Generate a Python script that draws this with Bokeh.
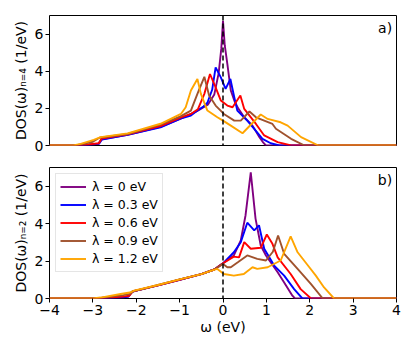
from bokeh.plotting import figure
from bokeh.layouts import column
from bokeh.models import Range1d, Span, Label, FixedTicker, Legend, LegendItem
from bokeh.embed import file_html
from bokeh.resources import INLINE

# ---------------- data ----------------
lambda_labels = ["λ = 0 eV", "λ = 0.3 eV", "λ = 0.6 eV", "λ = 0.9 eV", "λ = 1.2 eV"]
line_colors = ["purple", "blue", "red", "sienna", "orange"]

# panel a) n = 4
w_n4_l00 = [-4.0, -3.45, -3.1, -2.88, -2.8, -2.2, -1.44, -1.0, -0.6, -0.35, -0.2, -0.1, -0.04, 0.0, 0.04, 0.1, 0.18, 0.26, 0.35, 0.49, 0.68, 0.84, 0.93, 0.99, 4.0]
d_n4_l00 = [0, 0, 0.04, 0.09, 0.33, 0.57, 1.0, 1.42, 1.85, 2.2, 2.75, 3.9, 5.2, 6.72, 5.4, 4.4, 2.96, 2.42, 2.0, 1.52, 1.07, 0.45, 0.15, 0, 0]

w_n4_l03 = [-4.0, -3.45, -3.1, -2.86, -2.79, -2.2, -1.44, -0.98, -0.74, -0.59, -0.45, -0.36, -0.25, -0.17, -0.05, 0.06, 0.17, 0.26, 0.33, 0.56, 0.72, 0.91, 1.1, 1.3, 4.0]
d_n4_l03 = [0, 0, 0.04, 0.09, 0.32, 0.58, 0.98, 1.45, 1.61, 1.88, 2.1, 2.3, 3.0, 4.21, 3.67, 3.05, 3.58, 2.6, 1.88, 1.34, 0.9, 0.36, 0.12, 0, 0]

w_n4_l06 = [-4.0, -3.4, -3.1, -2.86, -2.8, -2.2, -1.44, -0.98, -0.74, -0.58, -0.43, -0.3, -0.17, -0.05, 0.1, 0.22, 0.4, 0.49, 0.76, 0.95, 1.26, 1.57, 4.0]
d_n4_l06 = [0, 0, 0.06, 0.12, 0.38, 0.6, 1.05, 1.5, 1.7, 1.95, 2.78, 3.85, 3.13, 2.42, 2.15, 2.06, 2.69, 1.97, 1.16, 0.54, 0.18, 0, 0]

w_n4_l09 = [-4.0, -3.4, -3.0, -2.85, -2.2, -1.44, -0.98, -0.74, -0.59, -0.43, -0.32, -0.17, 0.02, 0.26, 0.41, 0.61, 0.76, 1.14, 1.22, 1.57, 1.88, 4.0]
d_n4_l09 = [0, 0, 0.2, 0.42, 0.62, 1.12, 1.57, 1.88, 2.78, 3.7, 2.69, 2.15, 1.7, 1.34, 1.34, 1.83, 1.52, 1.16, 0.9, 0.36, 0, 0]

w_n4_l12 = [-4.0, -3.45, -3.28, -2.98, -2.82, -2.2, -1.44, -0.97, -0.86, -0.74, -0.59, -0.51, -0.36, -0.13, 0.0, 0.18, 0.45, 0.87, 1.03, 1.33, 1.49, 1.8, 2.2, 4.0]
d_n4_l12 = [0, 0, 0.09, 0.3, 0.45, 0.65, 1.17, 1.7, 2.06, 2.96, 3.58, 2.78, 1.88, 1.52, 1.34, 1.07, 0.66, 1.67, 1.43, 1.25, 1.07, 0.45, 0, 0]

# panel b) n = 2
w_n2_l00 = [-4.0, -3.0, -2.8, -2.3, -2.18, -2.1, -2.0, -1.5, -1.0, -0.5, -0.2, 0.0, 0.25, 0.41, 0.52, 0.64, 0.75, 0.87, 0.99, 1.26, 1.41, 1.6, 1.66, 4.0]
d_n2_l00 = [0, 0, 0.02, 0.06, 0.1, 0.35, 0.42, 0.7, 1.0, 1.3, 1.55, 1.88, 2.3, 3.1, 4.45, 6.74, 4.27, 2.83, 2.3, 1.4, 0.86, 0.15, 0, 0]

w_n2_l03 = [-4.0, -3.0, -2.8, -2.3, -2.18, -2.1, -2.0, -1.5, -1.0, -0.5, -0.2, 0.0, 0.25, 0.41, 0.56, 0.72, 0.83, 0.95, 1.18, 1.41, 1.64, 1.83, 4.0]
d_n2_l03 = [0, 0, 0.02, 0.07, 0.11, 0.36, 0.42, 0.7, 1.0, 1.3, 1.55, 1.88, 2.47, 3.01, 4.05, 3.64, 3.91, 2.66, 1.76, 1.22, 0.5, 0, 0]

w_n2_l06 = [-4.0, -3.0, -2.8, -2.3, -2.16, -2.08, -2.0, -1.5, -1.0, -0.5, -0.2, 0.0, 0.25, 0.37, 0.49, 0.64, 0.87, 1.01, 1.14, 1.26, 1.56, 1.79, 2.03, 4.0]
d_n2_l06 = [0, 0, 0.03, 0.1, 0.15, 0.38, 0.43, 0.7, 1.0, 1.3, 1.55, 1.88, 2.24, 2.2, 3.01, 2.66, 2.71, 3.42, 2.92, 2.2, 1.31, 0.5, 0, 0]

w_n2_l09 = [-4.0, -3.0, -2.8, -2.3, -2.14, -2.06, -1.95, -1.5, -1.0, -0.5, -0.2, 0.0, 0.1, 0.18, 0.35, 0.56, 0.79, 0.99, 1.15, 1.27, 1.41, 1.72, 2.03, 2.3, 4.0]
d_n2_l09 = [0, 0, 0.04, 0.18, 0.25, 0.4, 0.45, 0.72, 1.02, 1.3, 1.55, 1.85, 1.67, 1.67, 1.95, 2.3, 2.12, 2.03, 2.5, 3.37, 2.39, 1.58, 0.77, 0, 0]

w_n2_l12 = [-4.0, -3.0, -2.82, -2.36, -2.15, -2.05, -1.5, -1.0, -0.5, -0.25, -0.13, 0.02, 0.25, 0.48, 0.68, 0.79, 1.03, 1.33, 1.56, 1.72, 1.99, 2.14, 2.33, 2.56, 4.0]
d_n2_l12 = [0, 0, 0.05, 0.24, 0.32, 0.42, 0.72, 1.02, 1.3, 1.5, 1.58, 1.31, 1.22, 1.31, 1.67, 1.58, 1.67, 2.03, 3.32, 2.47, 1.67, 1.22, 0.59, 0, 0]

x_ticks = [-4, -3, -2, -1, 0, 1, 2, 3, 4]
y_ticks = [0, 2, 4, 6]

series_n4 = [(w_n4_l00, d_n4_l00), (w_n4_l03, d_n4_l03), (w_n4_l06, d_n4_l06),
             (w_n4_l09, d_n4_l09), (w_n4_l12, d_n4_l12)]
series_n2 = [(w_n2_l00, d_n2_l00), (w_n2_l03, d_n2_l03), (w_n2_l06, d_n2_l06),
             (w_n2_l09, d_n2_l09), (w_n2_l12, d_n2_l12)]

FONT = "DejaVu Sans"


def style_axis(ax, label, label_standoff, label_size):
    ax.axis_label = label
    ax.axis_label_text_font = FONT
    ax.axis_label_text_font_size = label_size
    ax.axis_label_text_font_style = "normal"
    ax.axis_label_text_color = "black"
    ax.axis_label_standoff = label_standoff
    ax.major_label_text_font = FONT
    ax.major_label_text_font_size = "14px"
    ax.major_label_text_color = "black"
    ax.major_tick_out = 4
    ax.major_tick_in = 0
    ax.major_tick_line_color = "black"
    ax.minor_tick_line_color = None
    ax.axis_line_color = None


def make_panel(height, top_border, bottom_border, ylabel, tag, series, show_x, with_legend):
    p = figure(width=407, height=height, output_backend="svg", toolbar_location=None,
               x_range=Range1d(-4, 4), y_range=Range1d(0, 7))
    p.min_border_left = 49
    p.min_border_right = 11
    p.min_border_top = top_border
    p.min_border_bottom = bottom_border
    p.grid.visible = False
    p.outline_line_color = "black"
    p.outline_line_width = 1
    p.outline_line_alpha = 1.0
    p.background_fill_color = "white"
    p.border_fill_color = "white"

    renderers = []
    for (w, d), c in zip(series, line_colors):
        r = p.line(w, d, line_color=c, line_width=1.9)
        renderers.append(r)

    p.add_layout(Span(location=0, dimension="height", line_color="black",
                      line_dash="5 3", line_width=1.5))

    p.yaxis.ticker = FixedTicker(ticks=y_ticks)
    style_axis(p.yaxis[0], ylabel, 3, "14px")
    p.yaxis.major_label_standoff = 2

    if show_x:
        p.xaxis.ticker = FixedTicker(ticks=x_ticks)
        p.xaxis.major_label_overrides = {t: (str(t).replace("-", "\u2212")) for t in x_ticks}
        style_axis(p.xaxis[0], "ω (eV)", 1, "14px")
        p.xaxis.major_label_standoff = 2
    else:
        p.xaxis.visible = False

    p.add_layout(Label(x=3.9, y=6.78, text=tag, text_align="right", text_baseline="top",
                       text_font=FONT, text_font_size="14px", text_color="black"))

    if with_legend:
        items = [LegendItem(label=lab, renderers=[r]) for lab, r in zip(lambda_labels, renderers)]
        leg = Legend(items=items, location="top_left")
        leg.margin = 6
        leg.padding = 4
        leg.spacing = 1
        leg.glyph_width = 26
        leg.glyph_height = 17
        leg.label_height = 17
        leg.label_standoff = 6
        leg.label_text_font = FONT
        leg.label_text_font_size = "12.5px"
        leg.label_text_color = "black"
        leg.border_line_color = "#cccccc"
        leg.border_line_width = 1
        leg.background_fill_color = "white"
        leg.background_fill_alpha = 0.8
        p.add_layout(leg, "center")
    return p


p_top = make_panel(160, 15, 15, "DOS(ω)ₙ₌₄ (1/eV)", "a)", series_n4, False, False)
p_bot = make_panel(183, 7, 45, "DOS(ω)ₙ₌₂ (1/eV)", "b)", series_n2, True, True)

layout = column(p_top, p_bot, spacing=0)

open("out.html", "w").write(file_html(layout, INLINE))
